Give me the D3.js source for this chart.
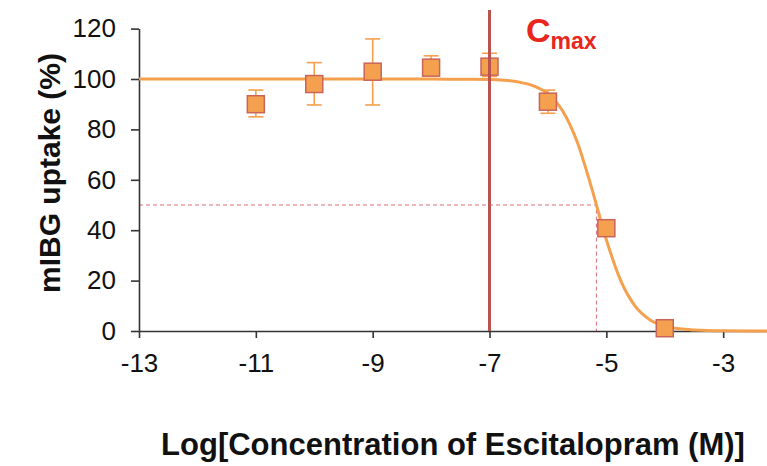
<!DOCTYPE html>
<html>
<head>
<meta charset="utf-8">
<script src="https://cdn.jsdelivr.net/npm/d3@7"></script>
<style>
  html, body { margin: 0; padding: 0; background: #fff; }
  svg { display: block; font-family: "Liberation Sans", Arial, Helvetica, sans-serif; }
</style>
</head>
<body>
<svg id="chart" width="767" height="466"></svg>
<script>
// ---- Data ----
const logConc   = [-11, -10, -9, -8, -7, -6, -5, -4];
const uptake    = [90.0, 98.0, 102.9, 104.5, 104.9, 91.0, 40.8, 1.1];
const errUpper  = [95.6, 106.5, 115.9, 109.2, 110.2, 95.6, 40.8, 1.1];
const errLower  = [85.0, 89.7, 89.7, 101.5, 101.0, 86.4, 40.8, 1.1];

// fitted dose-response curve
const fitX = [-13, -9, -8, -7.5, -7, -6.75, -6.5, -6.25, -6, -5.75, -5.5, -5.25, -5, -4.75, -4.5, -4.25, -4, -3.75, -3.5, -3, -2.25];
const fitY = [100, 100, 100, 99.9, 99.8, 99.5, 98.8, 97.3, 94.1, 87.4, 75.1, 56.6, 36.2, 19.8, 9.65, 4.4, 2.0, 0.87, 0.4, 0.07, 0];

const xTicks = [-13, -11, -9, -7, -5, -3];
const yTicks = [0, 20, 40, 60, 80, 100, 120];

const cmaxLog = -7;          // Cmax marker position
const cmaxTop = 127.4;       // top of the Cmax line (in y units)
const ic50Log = -5.17;       // half-maximal concentration
const halfLevel = 50;        // 50 % uptake

const xLabel = "Log[Concentration of Escitalopram (M)]";
const yLabel = "mIBG uptake (%)";

// ---- Scales ----
const svg = d3.select("#chart");
const x = d3.scaleLinear().domain([-13, -2.25]).range([139, 767]);
const y = d3.scaleLinear().domain([0, 120]).range([331, 28.6]);

const orange = "#F4A04E";
const markerStroke = "#C8645A";

// dashed IC50 guides
svg.append("path")
  .attr("d", d3.line()([[x(-13), y(halfLevel)], [x(ic50Log), y(halfLevel)], [x(ic50Log), y(0)]]))
  .attr("fill", "none")
  .attr("stroke", "#DC6E78")
  .attr("stroke-width", 1)
  .attr("stroke-dasharray", "4,3");

// axes
const yAxis = d3.axisLeft(y).tickValues(yTicks).tickSize(8).tickPadding(15).tickSizeOuter(0);
const gy = svg.append("g").attr("transform", `translate(${x(-13)},0)`).call(yAxis);
const xAxis = d3.axisBottom(x).tickValues(xTicks).tickSize(7).tickPadding(16).tickSizeOuter(0);
const gx = svg.append("g").attr("transform", `translate(0,${y(0)})`).call(xAxis);

[gx, gy].forEach(g => {
  g.select(".domain").attr("stroke", "#333").attr("stroke-width", 1.6);
  g.selectAll(".tick line").attr("stroke", "#333").attr("stroke-width", 1.6);
  g.selectAll(".tick text").attr("fill", "#111").attr("font-size", 26)
    .style("font-family", "'Liberation Sans', Arial, sans-serif");
});
gx.selectAll(".tick text").text(d => d);

// fitted curve
svg.append("path")
  .datum(fitX.map((v, i) => [v, fitY[i]]))
  .attr("d", d3.line().x(d => x(d[0])).y(d => y(d[1])).curve(d3.curveMonotoneX))
  .attr("fill", "none")
  .attr("stroke", orange)
  .attr("stroke-width", 3);

// error bars
const capW = 15;
const eb = svg.append("g").attr("stroke", orange).attr("stroke-width", 1.6).attr("fill", "none");
logConc.forEach((c, i) => {
  if (errUpper[i] === errLower[i]) return;
  const cx = x(c);
  eb.append("line").attr("x1", cx).attr("x2", cx).attr("y1", y(errUpper[i])).attr("y2", y(errLower[i]));
  eb.append("line").attr("x1", cx - capW / 2).attr("x2", cx + capW / 2).attr("y1", y(errUpper[i])).attr("y2", y(errUpper[i]));
  eb.append("line").attr("x1", cx - capW / 2).attr("x2", cx + capW / 2).attr("y1", y(errLower[i])).attr("y2", y(errLower[i]));
});

// square markers
const sz = 17;
svg.append("g").selectAll("rect")
  .data(logConc.map((c, i) => [c, uptake[i]]))
  .join("rect")
  .attr("x", d => x(d[0]) - sz / 2)
  .attr("y", d => y(d[1]) - sz / 2)
  .attr("width", sz).attr("height", sz)
  .attr("fill", orange)
  .attr("stroke", markerStroke)
  .attr("stroke-width", 1.5);

// Cmax vertical line
svg.append("line")
  .attr("x1", x(cmaxLog)).attr("x2", x(cmaxLog))
  .attr("y1", y(cmaxTop)).attr("y2", y(0))
  .attr("stroke", "#B9534F")
  .attr("stroke-width", 3);

// Cmax label
const cm = svg.append("text")
  .attr("x", 526).attr("y", 42)
  .attr("fill", "#E8261C")
  .attr("font-weight", "bold");
cm.append("tspan").attr("font-size", 34).text("C");
cm.append("tspan").attr("font-size", 23).attr("dy", 7).text("max");

// axis titles
svg.append("text")
  .attr("x", 453).attr("y", 455)
  .attr("text-anchor", "middle")
  .attr("font-size", 31)
  .attr("font-weight", "bold")
  .attr("fill", "#111")
  .text(xLabel);

svg.append("text")
  .attr("transform", "translate(60,173) rotate(-90)")
  .attr("text-anchor", "middle")
  .attr("font-size", 30)
  .attr("font-weight", "bold")
  .attr("fill", "#111")
  .text(yLabel);
</script>
</body>
</html>
